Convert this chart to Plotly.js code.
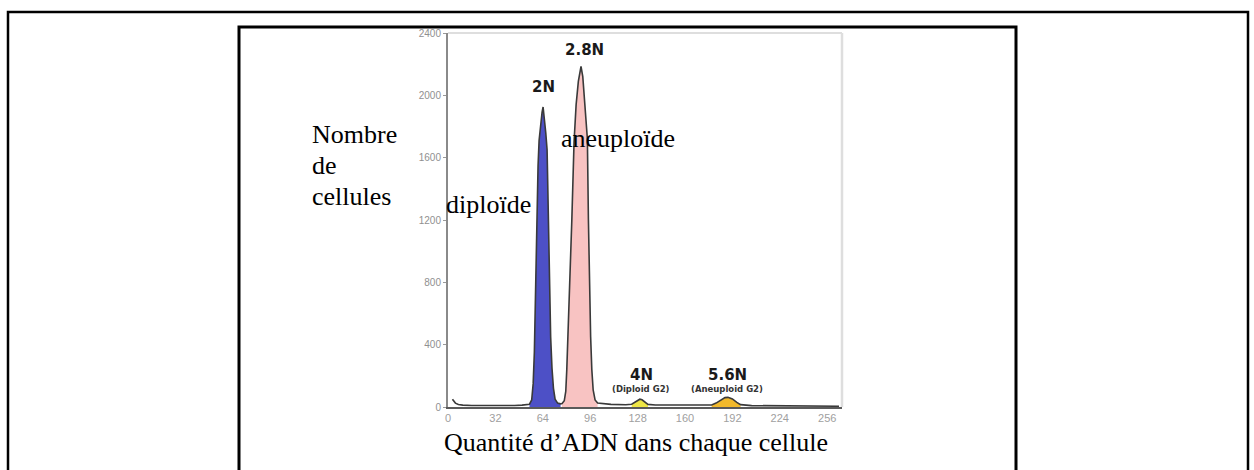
<!DOCTYPE html>
<html>
<head>
<meta charset="utf-8">
<script src="https://cdn.plot.ly/plotly-3.0.1.min.js"></script>
<style>html,body{margin:0;padding:0;background:#fff;}#chart{width:1254px;height:470px;}</style>
</head>
<body>
<div id="chart"></div>
<script>
// DNA content (channel) and cell counts
const dnaChannel = [3, 4, 5, 7, 10, 16, 25, 35, 45, 50, 53, 55,
  56.5, 57.5, 58.3, 59, 59.9, 60.8, 61.5, 62.5, 63.5, 64.2, 65, 66, 66.9, 67.8, 68.5, 69.3, 70.2, 71.2, 72.3, 74, 76,
  77, 78.5, 79.5, 80.2, 81, 82, 83.6, 85.1, 86.5, 88, 89.8, 91, 92.5, 94.1, 94.8, 95.5, 96.3, 97.1, 98, 99.3, 101,
  110, 120, 124, 126, 128, 129.5, 131, 133, 135, 140,
  150, 165, 178, 181, 184, 187, 189, 192, 195, 197.5, 205, 220, 240, 264];
const cellCount = [50, 35, 25, 16, 12, 10, 9, 9, 10, 12, 15, 18,
  45, 150, 350, 700, 1210, 1550, 1710, 1820, 1890, 1925, 1860, 1760, 1650, 1210, 800, 450, 250, 120, 50, 25, 20,
  22, 40, 100, 240, 450, 750, 1200, 1700, 1940, 2090, 2185, 2120, 1950, 1720, 1200, 800, 450, 240, 110, 45, 25,
  17, 14, 18, 30, 45, 50, 46, 30, 17, 13,
  12, 11, 13, 25, 45, 60, 62, 52, 30, 15, 9, 7, 6, 5];

// Peak regions (channel ranges) and labels
const peakNames = ['diploid', 'aneuploid', 'diploidG2', 'aneuploidG2'];
const peakRanges = [[55, 76], [77, 101], [124, 135], [178, 197.5]];
const peakColors = ['#4d50c6', '#f8c3c2', '#eee645', '#f1b92c'];

const xTicks = [0, 32, 64, 96, 128, 160, 192, 224, 256];
const yTicks = [0, 400, 800, 1200, 1600, 2000, 2400];

// pixel geometry helpers
const L = 448, R = 842, T = 33, B = 407, W = 1254, H = 470;
const px = x => (x - L) / (R - L);
const py = y => (B - y) / (B - T);

const traces = [];
peakRanges.forEach((r, i) => {
  const xs = [], ys = [];
  dnaChannel.forEach((c, k) => { if (c >= r[0] && c <= r[1]) { xs.push(c); ys.push(cellCount[k]); } });
  traces.push({x: xs, y: ys, type: 'scatter', mode: 'lines', fill: 'tozeroy',
    fillcolor: peakColors[i], line: {width: 0, color: peakColors[i]}, name: peakNames[i],
    hoverinfo: 'skip'});
});
traces.push({x: dnaChannel, y: cellCount, type: 'scatter', mode: 'lines',
  line: {color: '#3a3a3a', width: 1.6}, name: 'histogram'});

const serif = {family: 'Liberation Serif, Times New Roman, serif', size: 26, color: '#000'};
const bold = {family: 'DejaVu Sans', size: 15, color: '#1a1a1a', weight: 'bold'};
const tiny = {family: 'DejaVu Sans', size: 8.5, color: '#333', weight: 'bold'};

function ann(text, x, y, font, xanchor) {
  return {text: text, xref: 'paper', yref: 'paper', x: px(x), y: py(y), showarrow: false,
    xanchor: xanchor || 'center', yanchor: 'middle', font: font};
}

const annotations = [
  ann('Nombre', 310, 134, serif, 'left'),
  ann('de', 310, 165, serif, 'left'),
  ann('cellules', 310, 196, serif, 'left'),
  ann('diploïde', 444, 205, serif, 'left'),
  ann('aneuploïde', 559, 138, serif, 'left'),
  ann('Quantité d’ADN dans chaque cellule', 636, 442, serif),
  ann('<b>2N</b>', 543, 87, bold),
  ann('<b>2.8N</b>', 584, 50, bold),
  ann('<b>4N</b>', 641, 375, bold),
  ann('<b>(Diploid G2)</b>', 641, 389, tiny),
  ann('<b>5.6N</b>', 727, 375, bold),
  ann('<b>(Aneuploid G2)</b>', 727, 389, tiny)
];

const shapes = [
  // outer frame
  {type: 'rect', xref: 'paper', yref: 'paper', x0: px(8), x1: px(1248), y0: py(12), y1: py(500),
    line: {color: '#000', width: 2.5}, layer: 'below'},
  // inner frame
  {type: 'rect', xref: 'paper', yref: 'paper', x0: px(239), x1: px(1016), y0: py(27), y1: py(500),
    line: {color: '#000', width: 3}, layer: 'below'},
  // light plot box top and right
  {type: 'line', xref: 'paper', yref: 'paper', x0: 0, x1: 1, y0: 1, y1: 1, line: {color: '#dedede', width: 2}},
  {type: 'line', xref: 'paper', yref: 'paper', x0: 1, x1: 1, y0: 0, y1: 1, line: {color: '#dedede', width: 2.5}}
];

const layout = {
  width: W, height: H,
  margin: {l: L, r: W - R, t: T, b: H - B, pad: 0},
  paper_bgcolor: '#fff', plot_bgcolor: '#fff',
  showlegend: false,
  xaxis: {range: [0, 266], tickvals: xTicks, ticktext: xTicks.map(String), showgrid: false, zeroline: false,
    showline: true, linecolor: '#5a5a5a', linewidth: 2, ticks: '',
    tickfont: {family: 'Liberation Sans, Arial', size: 11, color: '#a0a0a0'}},
  yaxis: {range: [0, 2400], tickvals: yTicks, ticktext: yTicks.map(String), showgrid: false, zeroline: false,
    showline: true, linecolor: '#8a8a8a', linewidth: 2, ticks: 'outside', ticklen: 3, tickcolor: '#999',
    tickfont: {family: 'Liberation Sans, Arial', size: 10, color: '#909090'}},
  annotations: annotations,
  shapes: shapes
};

Plotly.newPlot('chart', traces, layout, {displayModeBar: false, staticPlot: true});
</script>
</body>
</html>
